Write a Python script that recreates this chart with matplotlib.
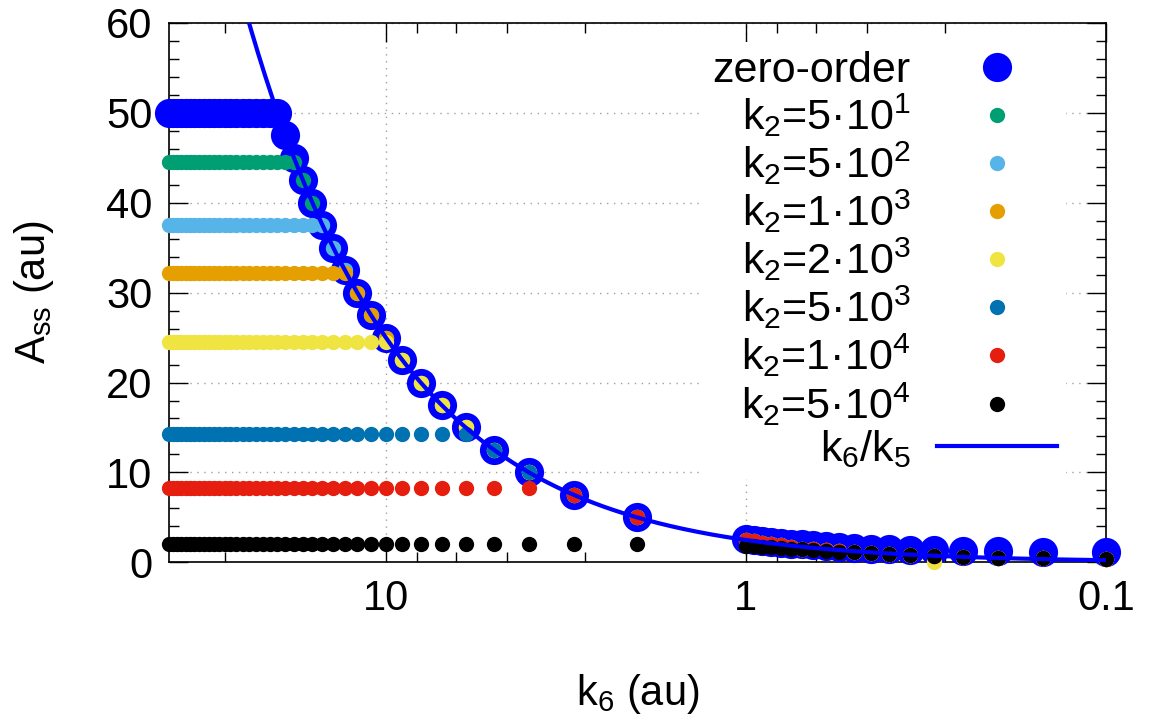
import numpy as np
import matplotlib
matplotlib.use("Agg")
import matplotlib.pyplot as plt
from matplotlib.ticker import FixedLocator, FuncFormatter

plt.rcParams["font.family"] = ["Liberation Sans", "DejaVu Sans"]
plt.rcParams["mathtext.default"] = "regular"

# k6 grid: 40 .. 1 in steps of 1, then 0.95 .. 0.1 in steps of 0.05
k6_high = list(range(40, 0, -1))
k6_low = [0.95, 0.9, 0.85, 0.8, 0.75, 0.7, 0.65, 0.6, 0.55, 0.5,
          0.45, 0.4, 0.35, 0.3, 0.25, 0.2, 0.15, 0.1]
k6 = k6_high + k6_low

# values for k6 = 19 .. 2
on_curve = [47.5, 45.0, 42.5, 40.0, 37.5, 35.0, 32.5, 30.0, 27.5,
            25.0, 22.5, 20.0, 17.5, 15.0, 12.5, 10.0, 7.5, 5.0]

# tails for k6 = 1 .. 0.1
zero_tail = [2.6, 2.5, 2.4, 2.3, 2.2, 2.1, 2.0, 1.9, 1.8, 1.7,
             1.65, 1.55, 1.5, 1.4, 1.35, 1.3, 1.25, 1.2, 1.2]
red_tail = [2.5, 2.35, 2.2, 2.05, 1.9, 1.75, 1.55, 1.45, 1.35, 1.25,
            1.15, 1.05, 0.95, 0.85, 0.75, 0.65, 0.55, 0.5, 0.4]
yellow_tail = [2.5, 2.35, 2.2, 2.05, 1.9, 1.75, 1.55, 1.45, 1.35, 1.25,
               1.15, 1.05, 0.95, 0.85, 0.05, 0.65, 0.55, 0.5, 0.4]
black_tail = [1.85, 1.8, 1.75, 1.7, 1.6, 1.55, 1.45, 1.4, 1.3, 1.2,
              1.15, 1.05, 0.95, 0.85, 0.75, 0.65, 0.55, 0.5, 0.4]

zero_order = [50.0] * 21 + on_curve + zero_tail
k2_labels = ["k$_2$=5\u00b710$^1$", "k$_2$=5\u00b710$^2$", "k$_2$=1\u00b710$^3$",
             "k$_2$=2\u00b710$^3$", "k$_2$=5\u00b710$^3$", "k$_2$=1\u00b710$^4$",
             "k$_2$=5\u00b710$^4$"]
k2_colors = ["#009e73", "#56b4e9", "#e69f00", "#f0e442", "#0072b2", "#e51e10", "#000000"]
k2_series = [
    [44.5] * 23 + on_curve[2:] + red_tail,
    [37.5] * 26 + on_curve[5:] + red_tail,
    [32.2] * 28 + on_curve[7:] + red_tail,
    [24.5] * 31 + on_curve[10:] + yellow_tail,
    [14.3] * 35 + on_curve[14:] + red_tail,
    [8.3] * 37 + on_curve[16:] + red_tail,
    [2.0] * 39 + black_tail,
]
k5 = 0.4

fig = plt.figure(figsize=(11.53, 7.15), dpi=100)
ax = fig.add_axes([0.1466, 0.2133, 0.8126, 0.7552])

ax.plot(k6, zero_order, "o", color="#0000ff", ms=21, mew=0, clip_on=False,
        label="zero-order", zorder=3)
for vals, col, lab in zip(k2_series, k2_colors, k2_labels):
    ax.plot(k6, vals, "o", color=col, ms=11, mew=0, clip_on=False, label=lab, zorder=4)

k6_line = np.logspace(-1, np.log10(40), 400)
ax.plot(k6_line, k6_line / k5, "-", color="#0000ff", lw=3, label="k$_6$/k$_5$", zorder=5)

ax.set_xscale("log")
ax.set_xlim(40, 0.1)
ax.set_ylim(0, 60)

ax.xaxis.set_major_locator(FixedLocator([0.1, 1, 10]))
ax.xaxis.set_major_formatter(FuncFormatter(lambda v, p: f"{v:g}"))
ax.xaxis.set_minor_locator(FixedLocator([0.28, 0.46, 0.64, 0.82, 2.8, 4.6, 6.4, 8.2, 28]))
ax.xaxis.set_minor_formatter(FuncFormatter(lambda v, p: ""))
ax.set_yticks(range(0, 61, 10))
ax.set_yticks(range(0, 61, 2), minor=True)

ax.tick_params(which="both", direction="in", top=True, right=True, labelsize=30, width=1)
ax.tick_params(which="major", length=14, pad=12)
ax.tick_params(which="minor", length=7)
for s in ax.spines.values():
    s.set_linewidth(1.2)

ax.grid(True, which="major", color="#a0a0a0", linestyle=(0, (1, 4)), lw=1)
ax.set_axisbelow(True)

ax.set_xlabel("k$_6$ (au)", fontsize=30, labelpad=38)
ax.set_ylabel("A$_{ss}$ (au)", fontsize=30, labelpad=36)

leg = ax.legend(loc="upper right", bbox_to_anchor=(0.957, 0.964), borderaxespad=0,
                fontsize=31, markerfirst=False, frameon=True, framealpha=1,
                edgecolor="none", facecolor="white", fancybox=False,
                labelspacing=0.02, handlelength=2.8, handletextpad=0.6,
                borderpad=0.2, numpoints=1)
leg.set_zorder(6)

fig.savefig("out.png", dpi=100)
